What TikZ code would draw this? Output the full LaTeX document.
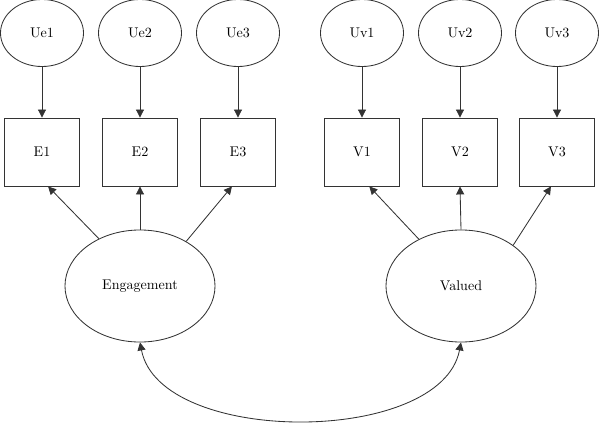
\documentclass[tikz,border=0pt]{standalone}
\usepackage{amssymb}
\usepackage{tikz}
\usetikzlibrary{shapes,arrows.meta,backgrounds}

\begin{document}
\begin{tikzpicture}[x=0.025cm, y=-0.025cm]
			\tikzstyle{Error}	= [ellipse, draw=black!80, line width=0.6pt, minimum width=2.075cm, minimum height=1.675cm, inner sep=0pt]
			\tikzstyle{Item} 	= [rectangle, draw=black!80, line width=0.6pt, minimum width=1.875cm, minimum height=1.7cm, inner sep=0pt]
			\tikzstyle{Latent}	= [ellipse, draw=black!80, line width=0.6pt, minimum width=3.75cm, minimum height=2.8cm, inner sep=0pt]
			\tikzstyle{Path}	= [-{Triangle[length=2mm,width=2mm]}, black!80, line width=0.6pt]
			\tikzstyle{Cov}		= [{Triangle[length=2mm,width=2mm]}-{Triangle[length=2mm,width=2mm]}, black!80, line width=0.6pt]
			
			\useasboundingbox (0, 0) rectangle (600, 422);
			
			\node (ue1) at (42, 33) [Error] {Ue1};
			\node (ue2) at (140, 33) [Error] {Ue2};
			\node (ue3) at (238, 33) [Error] {Ue3};
			\node (uv1) at (362, 33) [Error] {Uv1};
			\node (uv2) at (460, 33) [Error] {Uv2};
			\node (uv3) at (557, 33) [Error] {Uv3};
			
			\node (e1) at (42, 152) [Item] {E1};
			\node (e2) at (140, 152) [Item] {E2};
			\node (e3) at (238, 152) [Item] {E3};
			\node (v1) at (362, 152) [Item] {V1};
			\node (v2) at (460, 152) [Item] {V2};
			\node (v3) at (557, 152) [Item] {V3};
			
			\node (eng) at (140, 286) [Latent] {Engagement};
			\node (val) at (461, 286) [Latent] {Valued};
			
			\draw (ue1) to (e1) [Path];
			\draw (ue2) to (e2) [Path];
			\draw (ue3) to (e3) [Path];
			\draw (uv1) to (v1) [Path];
			\draw (uv2) to (v2) [Path];
			\draw (uv3) to (v3) [Path];
			
			\draw (eng.131) to (e1.-80) [Path];
			\draw (eng.north) to (e2.south) [Path];
			\draw (eng.44) to (e3.-100) [Path];
			\draw (val.132) to (v1.-78) [Path];
			\draw (val.north) to (v2.south) [Path];
			\draw (val.38) to (v3.-100) [Path];
			
			\draw (eng.south) .. controls (160, 446) and (441, 446) .. (val.south) [Cov];
		\end{tikzpicture}
\end{document}
